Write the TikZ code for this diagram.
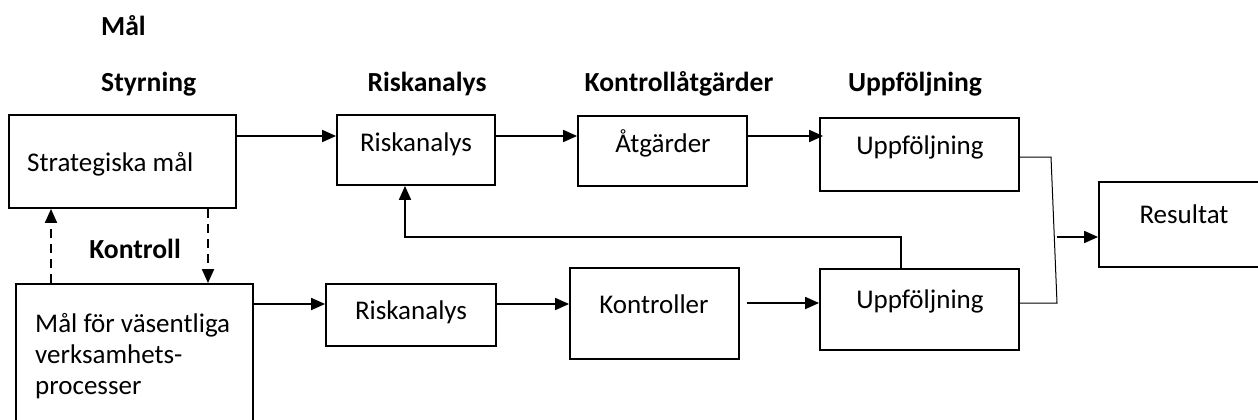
\documentclass[tikz,border=0pt]{standalone}
\usepackage{fontspec}
\setmainfont{Carlito}
\usetikzlibrary{arrows.meta}
\tikzset{
  x=1pt, y=-1pt,
  box/.style={draw=black, line width=1.8pt, inner sep=0pt},
  txt/.style={font=\fontsize{27}{31}\selectfont, anchor=base, inner sep=0pt},
  ltxt/.style={font=\fontsize{27}{31}\selectfont, anchor=base west, inner sep=0pt},
  head/.style={font=\fontsize{27.6}{32}\selectfont\bfseries, anchor=base, inner sep=0pt},
  arr/.style={line width=1.8pt, -{Triangle[length=14pt,width=12pt]}},
  darr/.style={line width=1.8pt, dash pattern=on 9pt off 6pt, -{Triangle[length=14pt,width=12pt]}},
  thin/.style={line width=1pt},
}
\begin{document}
\begin{tikzpicture}
\useasboundingbox (0,0) rectangle (1258,420);
% headings
\node[head, anchor=base west] (hmal) at (101,36) {Mål};
\node[head, anchor=base west] (hstyr) at (101,92) {Styrning};
\node[head] (hrisk) at (427,92) {Riskanalys};
\node[head] (hkont) at (679,92) {Kontrollåtgärder};
\node[head] (hupp) at (915,92) {Uppföljning};
\node[head] (hkontroll) at (135,258) {Kontroll};
% boxes
\node[box, minimum width=227, minimum height=93] (strat) at (122.5,161.5) {};
\node[box, minimum width=158, minimum height=70] (risk1) at (416,150) {};
\node[box, minimum width=169, minimum height=70] (atg) at (662.5,151) {};
\node[box, minimum width=199, minimum height=73] (upp1) at (919.5,154.5) {};
\node[box, minimum width=171, minimum height=85] (res) at (1184.5,224.5) {};
\node[box, minimum width=237, minimum height=145] (malv) at (134.5,356.5) {};
\node[box, minimum width=170, minimum height=62] (risk2) at (411,315) {};
\node[box, minimum width=169, minimum height=91] (kontr) at (654.5,313.5) {};
\node[box, minimum width=199, minimum height=81] (upp2) at (919.5,309.5) {};
% texts
\node[ltxt] (tstrat) at (27,171) {Strategiska mål};
\node[txt] (trisk1) at (416,151) {Riskanalys};
\node[txt] (tatg) at (663,152) {Åtgärder};
\node[txt] (tupp1) at (920,154) {Uppföljning};
\node[txt] (tres) at (1184,223) {Resultat};
\node[txt] (trisk2) at (411,319) {Riskanalys};
\node[txt] (tkontr) at (654,313) {Kontroller};
\node[txt] (tupp2) at (920,308) {Uppföljning};
\node[ltxt] (tmalv1) at (35,332) {Mål för väsentliga};
\node[ltxt] (tmalv2) at (35,363) {verksamhets-};
\node[ltxt] (tmalv3) at (35,394) {processer};
% connectors
\draw[arr] (strat.east |- 0,136) -- (risk1.west |- 0,136);
\draw[arr] (risk1.east |- 0,136) -- (atg.west |- 0,136);
\draw[arr] (atg.east |- 0,136) -- ([xshift=4pt]upp1.west |- 0,136);
\draw[arr] (upp2.north -| 901,0) -- (901,237) -- (405,237) -- (risk1.south -| 405,0);
\draw[arr] (malv.east |- 0,304) -- (risk2.west |- 0,304);
\draw[arr] (risk2.east |- 0,304) -- (kontr.west |- 0,304);
\draw[arr] (747,303) -- (upp2.west |- 0,303);
\draw[thin] (upp1.east |- 0,157) -- (1051,157) -- (1057,303) -- (upp2.east |- 0,303);
\coordinate (jn) at (1057,237);
\draw[arr] (jn) -- (res.west |- jn);
\draw[darr] (malv.north -| 51,0) -- (strat.south -| 51,0);
\draw[darr] (strat.south -| 208,0) -- (malv.north -| 208,0);
\end{tikzpicture}
\end{document}
